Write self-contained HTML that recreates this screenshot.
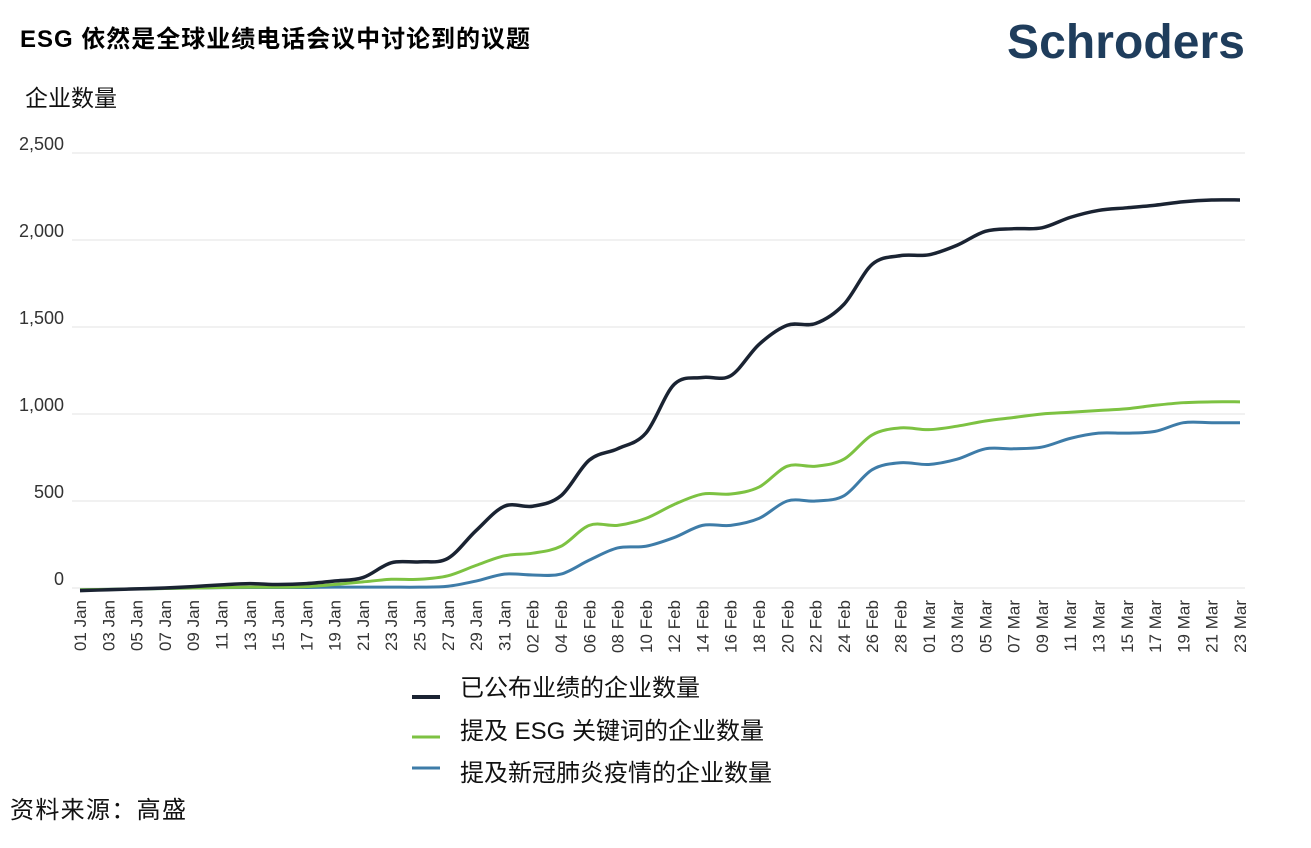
<!DOCTYPE html>
<html><head><meta charset="utf-8"><style>
body{margin:0;background:#fff;width:1311px;height:843px;overflow:hidden;font-family:"Liberation Sans","Noto Sans CJK SC",sans-serif}
</style></head><body>
<svg width="1311" height="843" xmlns="http://www.w3.org/2000/svg" font-family="Liberation Sans, Noto Sans CJK SC, sans-serif">
<text x="20" y="47" font-size="24" font-weight="bold" fill="#000" textLength="510">ESG 依然是全球业绩电话会议中讨论到的议题</text>
<text x="1007" y="58" font-size="48" font-weight="bold" fill="#1f3d5c" textLength="238">Schroders</text>
<text x="25" y="106" font-size="23" fill="#111">企业数量</text>
<g id="grid"></g><g id="yt"></g><g id="xt"></g><g id="lines"></g>
<rect x="438" y="658" width="535" height="140" fill="#fff"/>
<g>
<line x1="412" y1="697" x2="440" y2="697" stroke="#1a2332" stroke-width="4"/>
<text x="460" y="696" font-size="24" fill="#111">已公布业绩的企业数量</text>
<line x1="412" y1="737" x2="440" y2="737" stroke="#7dc242" stroke-width="3"/>
<text x="460" y="739" font-size="24" fill="#111">提及 ESG 关键词的企业数量</text>
<line x1="412" y1="768" x2="440" y2="768" stroke="#3e7ca8" stroke-width="3"/>
<text x="460" y="781" font-size="24" fill="#111">提及新冠肺炎疫情的企业数量</text>
</g>
<text x="10" y="818" font-size="24" fill="#111" textLength="176">资料来源：高盛</text>
</svg>
<script>
const categories=["01 Jan","03 Jan","05 Jan","07 Jan","09 Jan","11 Jan","13 Jan","15 Jan","17 Jan","19 Jan","21 Jan","23 Jan","25 Jan","27 Jan","29 Jan","31 Jan","02 Feb","04 Feb","06 Feb","08 Feb","10 Feb","12 Feb","14 Feb","16 Feb","18 Feb","20 Feb","22 Feb","24 Feb","26 Feb","28 Feb","01 Mar","03 Mar","05 Mar","07 Mar","09 Mar","11 Mar","13 Mar","15 Mar","17 Mar","19 Mar","21 Mar","23 Mar"];
const reported=[-15,-10,-5,0,8,18,25,20,25,40,60,145,150,170,330,470,470,530,735,800,890,1170,1210,1220,1400,1510,1520,1630,1860,1910,1915,1970,2050,2065,2070,2130,2170,2185,2200,2220,2230,2230];
const esg=[-10,-8,-5,-3,0,3,5,5,8,20,35,50,50,70,130,185,200,240,360,360,400,480,540,540,580,700,700,740,880,920,910,930,960,980,1000,1010,1020,1030,1050,1065,1070,1070];
const covid=[-10,-8,-5,-3,0,2,3,3,3,5,5,5,5,10,40,80,75,80,160,230,240,290,360,360,400,500,500,530,680,720,710,740,800,800,810,860,890,890,900,950,950,950];
const yTicks=[0,500,1000,1500,2000,2500];
const yTickLabels=["0","500","1,000","1,500","2,000","2,500"];
const NS="http://www.w3.org/2000/svg";
const x0=80,x1=1240,yb=588,yt=153;
const xs=i=>x0+i*(x1-x0)/(categories.length-1);
const ys=v=>yb-(v/2500)*(yb-yt);
function mk(t,a,p){const e=document.createElementNS(NS,t);for(const k in a)e.setAttribute(k,a[k]);const par=document.getElementById(p);par.appendChild(e);return e;}
yTicks.forEach((v,i)=>{
 const l=mk('line',{x1:72,x2:1245,y1:ys(v),y2:ys(v),stroke:'#e3e3e3','stroke-width':1},'grid');
 
 
 const t=mk('text',{x:64,y:ys(v)-3,'text-anchor':'end','font-size':18,fill:'#333'},'yt');
 
 
 t.textContent=yTickLabels[i];
});
categories.forEach((c,i)=>{
 const t=mk('text',{transform:`translate(${xs(i)+6},600) rotate(-90)`,'text-anchor':'end','font-size':17,fill:'#333'},'xt');
 
 
 t.textContent=c;
});
function path(vals){
 const p=vals.map((v,i)=>[xs(i),ys(v)]);
 let d=`M${p[0][0]},${p[0][1]}`;
 for(let i=0;i<p.length-1;i++){
  const a=p[Math.max(0,i-1)],b=p[i],c=p[i+1],e=p[Math.min(p.length-1,i+2)];
  const c1=[b[0]+(c[0]-a[0])/6,b[1]+(c[1]-a[1])/6],c2=[c[0]-(e[0]-b[0])/6,c[1]-(e[1]-b[1])/6];
  d+=` C${c1[0]},${c1[1]} ${c2[0]},${c2[1]} ${c[0]},${c[1]}`;
 }
 return d;
}
[[covid,'#3e7ca8',3,'series-covid'],[esg,'#7dc242',3,'series-esg'],[reported,'#1a2332',3.5,'series-reported']].forEach(s=>{
 const e=mk('path',{d:path(s[0]),fill:'none',stroke:s[1],'stroke-width':s[2]},'lines');
 
 
});
</script>
</body></html>
